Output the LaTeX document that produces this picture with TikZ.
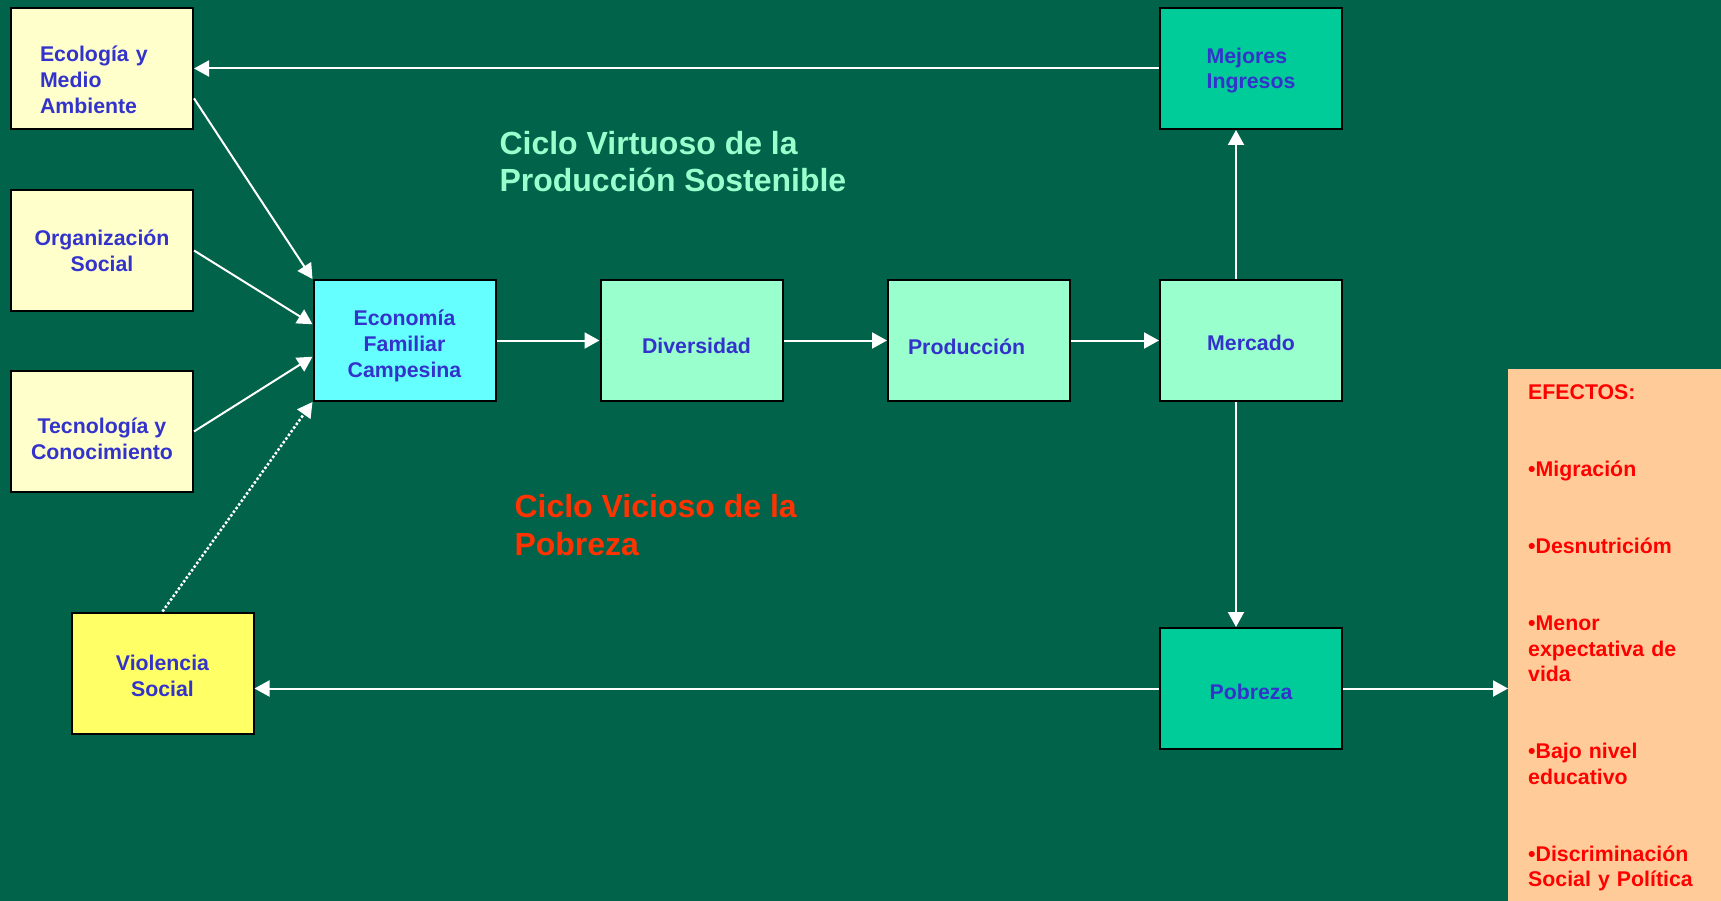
\documentclass[tikz,border=0pt]{standalone}
\usepackage{fontspec}
\setmainfont{Liberation Sans}
\usetikzlibrary{arrows.meta}

\definecolor{slide}{HTML}{00634A}
\definecolor{boxtext}{HTML}{3333CC}
\definecolor{cream}{HTML}{FFFFCC}
\definecolor{aqua}{HTML}{66FFFF}
\definecolor{mint}{HTML}{99FFCC}
\definecolor{jade}{HTML}{00CC99}
\definecolor{lemon}{HTML}{FFFF66}
\definecolor{peach}{HTML}{FFCC99}
\definecolor{flame}{HTML}{FF3300}

\newcommand{\boxfont}{\bfseries\fontsize{21.3}{25.7}\selectfont}
\newcommand{\titlefont}{\bfseries\fontsize{32}{37.5}\selectfont}
\newcommand{\efxfont}{\bfseries\fontsize{21.3}{25.5}\selectfont}

\begin{document}
\begin{tikzpicture}[x=1pt,y=-1pt]
\fill[slide] (0,0) rectangle (1721,901);
\useasboundingbox (0,0) rectangle (1721,901);

\tikzstyle{box}=[rectangle,draw=black,line width=2pt,minimum width=182pt,minimum height=121pt,inner sep=0pt,font=\boxfont,text=boxtext]
\tikzstyle{middle}=[align=center]
\tikzstyle{flush}=[align=left]
\tikzstyle{flusheco}=[align=left,text width=124pt]
\tikzstyle{flushdiv}=[align=right,text width=119pt]
\tikzstyle{flushprod}=[align=left,text width=142pt]
\tikzstyle{link}=[draw=white,line width=2pt,-{Triangle[length=15pt,width=16pt]}]
\tikzstyle{weak}=[link,line width=2.5pt,dash pattern=on 2.5pt off 2pt]

  % \h: height of the strut that pushes the text down a little
  \foreach \name/\x/\y/\col/\al/\h/\text in {
      eco/102/68.5/cream/flusheco/38pt/{Ecología y\\Medio\\Ambiente},
      org/102/250.5/cream/middle/0pt/{Organización\\Social},
      tec/102/431.5/cream/middle/30pt/{Tecnología y\\Conocimiento},
      econ/404.5/340.5/aqua/middle/26.5pt/{Economía\\Familiar\\Campesina},
      div/691.5/340.5/mint/flushdiv/25.5pt/Diversidad,
      prod/979/340.5/mint/flushprod/28pt/Producción,
      merc/1251/340.5/mint/middle/19.5pt/Mercado,
      mej/1251/68.5/jade/flush/19.5pt/{Mejores\\Ingresos},
      pob/1251/688.5/jade/middle/21.5pt/Pobreza,
      viol/162.5/673/lemon/middle/21.5pt/{Violencia\\Social}}
    \node[box,fill=\col,\al] (\name) at (\x,\y) {\rule{0pt}{\h}\text};

\node[anchor=base west,align=left,text=mint,font=\titlefont] (virt) at (496,192) {Ciclo Virtuoso de la\\Producción Sostenible};
\node[anchor=base west,align=left,text=flame,font=\titlefont] (vic) at (511,555) {Ciclo Vicioso de la\\Pobreza};

\node[anchor=north west,fill=peach,inner xsep=20pt,inner ysep=15.5pt,text width=173pt,align=left,text=red,font=\efxfont] (efx) at (1508,369)
  {EFECTOS:\\[51.5pt]
   \textbullet Migración\\[51.5pt]
   \textbullet Desnutricióm\\[51.5pt]
   \textbullet Menor\\ expectativa de\\ vida\\[51.5pt]
   \textbullet Bajo nivel\\ educativo\\[51.5pt]
   \textbullet Discriminación\\ Social y Política\rule[-30pt]{0pt}{30pt}};

  \foreach \from/\to in {econ/div,div/prod,prod/merc}
    { \draw[link] (\from) -- (\to); }
\draw[link] (mej.west) -- (eco.east);
\draw[link] (eco.-18) -- (econ.north west);
\draw[link] (org.east) -- (econ.170);
\draw[link] (tec.east) -- (econ.190);
\draw[weak] (viol.north) -- (econ.south west);
\draw[link] ([xshift=-15pt]merc.north) -- ([xshift=-15pt]mej.south);
\draw[link] ([xshift=-15pt]merc.south) -- ([xshift=-15pt]pob.north);
\draw[link] (pob.west) -- (pob.west -| viol.east);
\draw[link] (pob.east) -- (pob.east -| efx.west);

\end{tikzpicture}
\end{document}
